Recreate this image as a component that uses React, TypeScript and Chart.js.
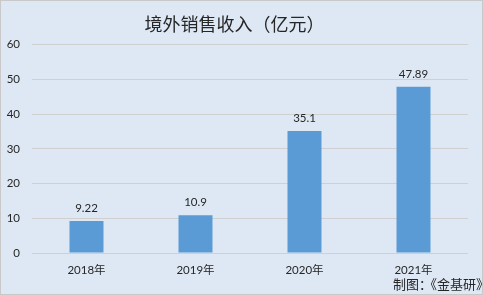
import React, { useEffect, useRef } from "react";
import { Chart, registerables } from "chart.js";

Chart.register(...registerables);

const categories = ["2018年", "2019年", "2020年", "2021年"];
const values = [9.22, 10.9, 35.1, 47.89];
const valueLabels = ["9.22", "10.9", "35.1", "47.89"];
const titleText = "境外销售收入（亿元）";
const sourcePrefix = "制图：";
const sourceName = "《金基研》";

const FONT = "Lato, 'Noto Sans CJK SC', sans-serif";

const valueLabelPlugin = {
  id: "valueLabels",
  afterDatasetsDraw(chart: any) {
    const ctx = chart.ctx;
    const meta = chart.getDatasetMeta(0);
    ctx.save();
    ctx.font = `11.5px ${FONT}`;
    ctx.fillStyle = "#262626";
    ctx.textAlign = "center";
    ctx.textBaseline = "alphabetic";
    meta.data.forEach((el: any, i: number) => {
      ctx.fillText(valueLabels[i], el.x, el.y - 9);
    });
    ctx.restore();
  },
};

export default function App() {
  const ref = useRef<HTMLCanvasElement | null>(null);
  useEffect(() => {
    if (!ref.current) return;
    const chart = new Chart(ref.current, {
      type: "bar",
      data: {
        labels: categories,
        datasets: [
          {
            data: values,
            backgroundColor: "#5b9bd5",
            categoryPercentage: 1,
            barPercentage: 0.312,
          },
        ],
      },
      options: {
        animation: false,
        responsive: false,
        layout: { padding: { left: 0, right: 14, top: 0, bottom: 0 } },
        plugins: {
          legend: { display: false },
          tooltip: { enabled: false },
          title: {
            display: true,
            text: titleText,
            color: "#262626",
            font: { size: 18, family: "'Noto Sans CJK SC', sans-serif", weight: "normal" },
            padding: { top: 12, bottom: 10 },
          },
        },
        scales: {
          x: {
            grid: { display: false },
            border: { display: false },
            ticks: { color: "#262626", font: { size: 11.5, family: FONT }, padding: 2 },
            afterFit(scale: any) {
              scale.height = 41;
            },
          },
          y: {
            min: 0,
            max: 60,
            ticks: { stepSize: 10, color: "#262626", font: { size: 11.5, family: FONT }, padding: 12 },
            grid: { color: "#d0d0d0", drawTicks: false },
            border: { display: false },
            afterFit(scale: any) {
              scale.width = 31;
            },
          },
        },
      },
      plugins: [valueLabelPlugin],
    });
    return () => chart.destroy();
  }, []);

  const textStyle: any = {
    position: "absolute",
    top: 275,
    fontFamily: "'Noto Sans CJK SC', sans-serif",
    fontSize: 13,
    color: "#262626",
    whiteSpace: "nowrap",
    lineHeight: "16px",
  };

  return (
    <div
      style={{
        position: "fixed",
        left: 0,
        top: 0,
        width: 483,
        height: 295,
        boxSizing: "border-box",
        border: "1px solid #c9c9c9",
        background: "#dee8f5",
        overflow: "hidden",
      }}
    >
      <canvas ref={ref} width={481} height={293} style={{ display: "block" }} />
      <span style={{ ...textStyle, left: 392 }}>{sourcePrefix}</span>
      <span style={{ ...textStyle, left: 423 }}>{sourceName}</span>
    </div>
  );
}
